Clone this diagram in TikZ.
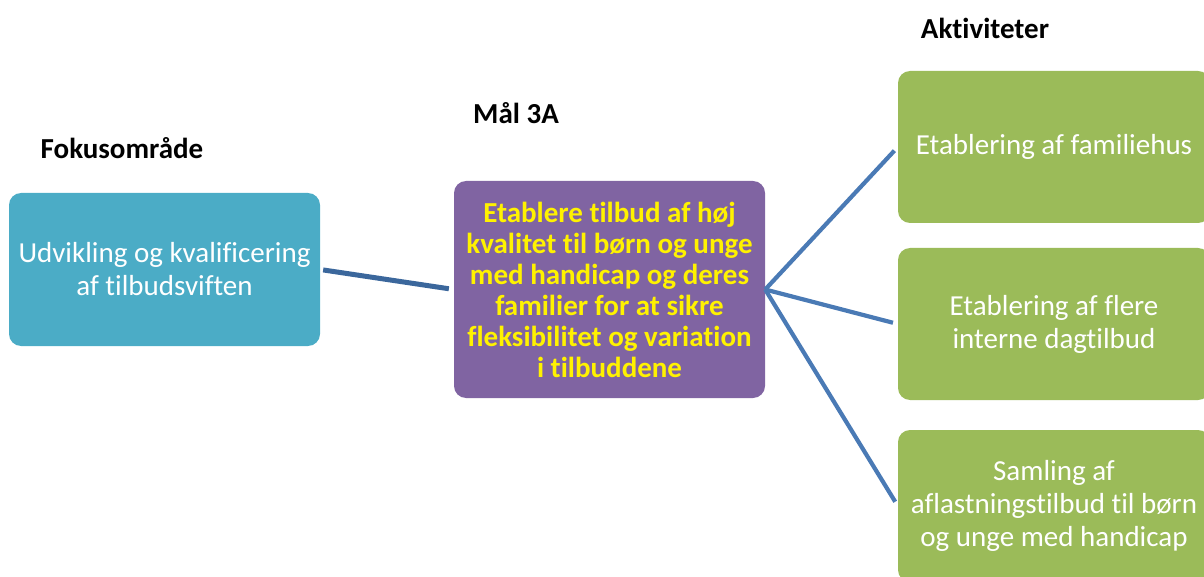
\documentclass[tikz,border=0pt]{standalone}
\usepackage{fontspec}
\setmainfont{Carlito}[Ligatures=NoCommon]
\usetikzlibrary{positioning}

\definecolor{fokusblue}{HTML}{4BACC6}
\definecolor{maalpurple}{HTML}{8064A2}
\definecolor{aktgreen}{HTML}{9BBB59}
\definecolor{linkblue}{HTML}{4A7AB5}
\definecolor{linkdark}{HTML}{3B679C}

\tikzset{
  box/.style={rounded corners=12pt, align=center, inner sep=0pt, text=white,
    font=\fontsize{29}{33}\selectfont},
  heading/.style={font=\bfseries\fontsize{29}{33}\selectfont, inner sep=0pt},
  link/.style={draw=linkblue, line width=4.2pt, line cap=butt, shorten >=5pt}
}

\begin{document}
\begin{tikzpicture}[x=1pt, y=-1pt, line join=round, line cap=round]

  \clip (0,0) rectangle (1204,577);

  % headings
  \node[heading] (hfokus) at (122,148) {Fokusområde};
  \node[heading] (hmaal) at (516,113) {Mål 3A};
  \node[heading] (hakt) at (985,28) {Aktiviteter};

  % boxes
  \node[box, fill=fokusblue, minimum width=311pt, minimum height=153pt] (fokus) at (164.5,269.5)
    {Udvikling og kvalificering\\af tilbudsviften};
  \node[box, fill=maalpurple, minimum width=311pt, minimum height=217pt, text=yellow,
    font=\bfseries\fontsize{29}{31}\selectfont] (maal) at (609.5,289.5)
    {Etablere tilbud af høj\\kvalitet til børn og unge\\med handicap og deres\\familier for at sikre\\fleksibilitet og variation\\i tilbuddene};
  \node[box, fill=aktgreen, minimum width=312pt, minimum height=152pt] (akt1) at (1054,147)
    {Etablering af familiehus};
  \node[box, fill=aktgreen, minimum width=312pt, minimum height=152pt] (akt2) at (1054,324)
    {Etablering af flere\\interne dagtilbud};
  \node[box, fill=aktgreen, minimum width=312pt, minimum height=152pt] (akt3) at (1054,506)
    {Samling af\\aflastningstilbud til børn\\og unge med handicap};

  % connectors
  \draw[link, draw=linkdark, line width=5pt, shorten <=3pt] (fokus.east) -- (maal.west);
  \foreach \a in {akt1,akt2,akt3}
    \draw[link] (maal.east) -- (\a.west);

\end{tikzpicture}
\end{document}
